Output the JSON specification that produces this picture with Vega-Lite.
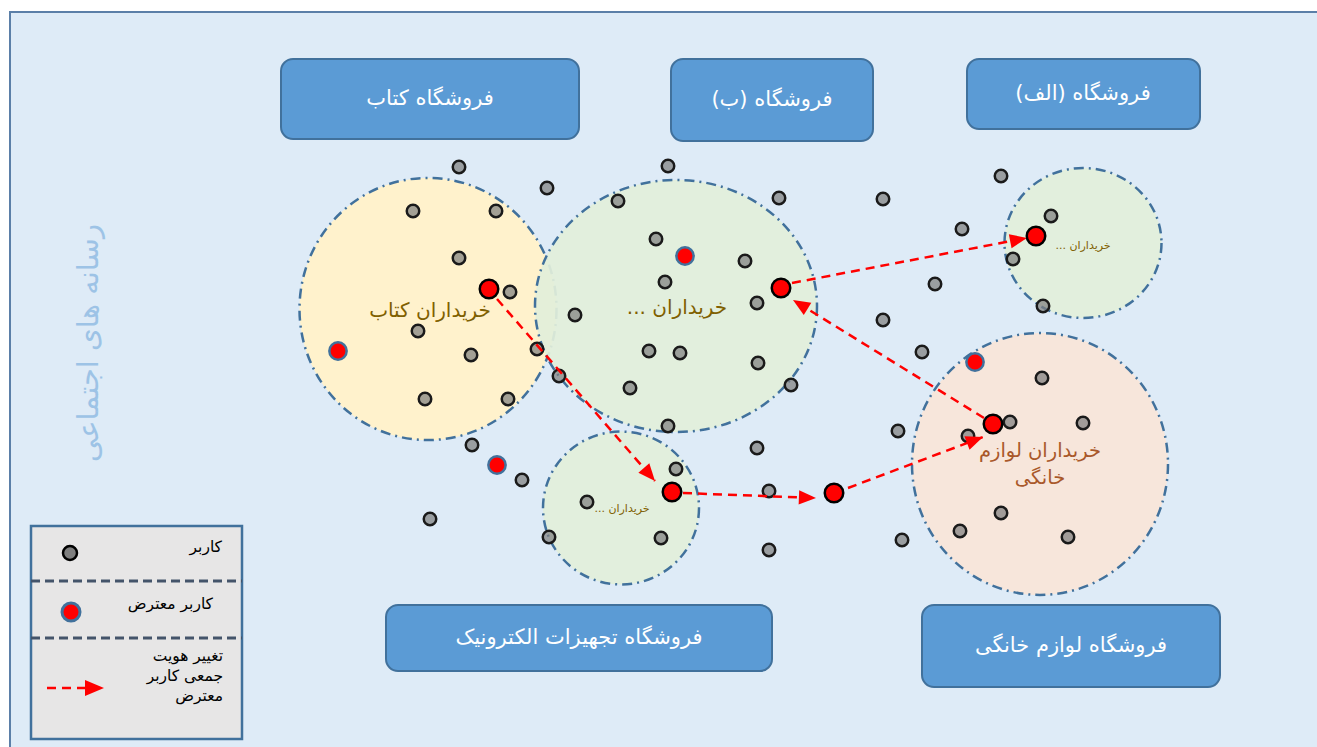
{
  "$schema": "https://vega.github.io/schema/vega-lite/v6.json",
  "width": 1317,
  "height": 747,
  "autosize": {"type": "fit", "contains": "padding"},
  "padding": 0,
  "background": "#ffffff",
  "config": {"view": {"stroke": null}},
  "datasets": {
    "frame": [{"x": 10, "y": 12, "x2": 1330, "y2": 760}],
    "boxes": [
      {"x": 281, "x2": 579, "y": 59, "y2": 139},
      {"x": 671, "x2": 873, "y": 59, "y2": 141},
      {"x": 967, "x2": 1200, "y": 59, "y2": 129},
      {"x": 386, "x2": 772, "y": 605, "y2": 671},
      {"x": 922, "x2": 1220, "y": 605, "y2": 687}
    ],
    "boxText": [
      {"x": 430, "y": 99, "t": "فروشگاه کتاب"},
      {"x": 772, "y": 100, "t": "فروشگاه (ب)\u200f"},
      {"x": 1083, "y": 94, "t": "فروشگاه (الف)\u200f"},
      {"x": 579, "y": 638, "t": "فروشگاه تجهیزات الکترونیک"},
      {"x": 1071, "y": 646, "t": "فروشگاه لوازم خانگی"}
    ],
    "circles": [
      {"name": "book", "x": 428, "y": 309, "rx": 128.5, "fill": "book"},
      {"name": "b", "x": 676, "y": 306, "rx": 141, "fill": "green"},
      {"name": "elec", "x": 621, "y": 508, "rx": 78, "fill": "green"},
      {"name": "alef", "x": 1083, "y": 243, "rx": 78.5, "fill": "green"},
      {"name": "house", "x": 1040, "y": 464, "rx": 128, "fill": "house"}
    ],
    "users": [
      {"x": 459, "y": 167}, {"x": 547, "y": 188}, {"x": 413, "y": 211}, {"x": 496, "y": 211},
      {"x": 459, "y": 258}, {"x": 510, "y": 292}, {"x": 418, "y": 331}, {"x": 471, "y": 355},
      {"x": 537, "y": 349}, {"x": 559, "y": 376}, {"x": 425, "y": 399}, {"x": 508, "y": 399},
      {"x": 472, "y": 445}, {"x": 575, "y": 315},
      {"x": 668, "y": 166}, {"x": 618, "y": 201}, {"x": 779, "y": 198}, {"x": 656, "y": 239},
      {"x": 745, "y": 261}, {"x": 665, "y": 282}, {"x": 757, "y": 303}, {"x": 649, "y": 351},
      {"x": 680, "y": 353}, {"x": 758, "y": 363}, {"x": 630, "y": 388}, {"x": 791, "y": 385},
      {"x": 668, "y": 426},
      {"x": 1001, "y": 176}, {"x": 883, "y": 199}, {"x": 962, "y": 229}, {"x": 1013, "y": 259},
      {"x": 935, "y": 284}, {"x": 883, "y": 320}, {"x": 922, "y": 352}, {"x": 1010, "y": 422},
      {"x": 968, "y": 436}, {"x": 898, "y": 431}, {"x": 1001, "y": 513}, {"x": 960, "y": 531},
      {"x": 902, "y": 540}, {"x": 1051, "y": 216}, {"x": 1043, "y": 306}, {"x": 1042, "y": 378},
      {"x": 1083, "y": 423}, {"x": 1068, "y": 537},
      {"x": 522, "y": 480}, {"x": 430, "y": 519}, {"x": 587, "y": 502}, {"x": 676, "y": 469},
      {"x": 549, "y": 537}, {"x": 661, "y": 538}, {"x": 757, "y": 448}, {"x": 769, "y": 491},
      {"x": 769, "y": 550}
    ],
    "objectors": [
      {"x": 338, "y": 351}, {"x": 685, "y": 256}, {"x": 975, "y": 362}, {"x": 497, "y": 465}
    ],
    "movers": [
      {"x": 489, "y": 289}, {"x": 781, "y": 288}, {"x": 993, "y": 424},
      {"x": 1036, "y": 236}, {"x": 672, "y": 492}, {"x": 834, "y": 493}
    ],
    "arrows": [
      {"x": 497, "y": 299, "x2": 655, "y2": 481},
      {"x": 683, "y": 493, "x2": 816, "y2": 498},
      {"x": 848, "y": 488, "x2": 983, "y2": 437},
      {"x": 984, "y": 418, "x2": 793, "y2": 300},
      {"x": 792, "y": 283, "x2": 1027, "y2": 238}
    ],
    "heads": [
      {"x": 655, "y": 481, "angle": 139.3},
      {"x": 816, "y": 498, "angle": 92.2},
      {"x": 983, "y": 437, "angle": 69.4},
      {"x": 793, "y": 300, "angle": 301.6},
      {"x": 1027, "y": 238, "angle": 79.2}
    ],
    "legendArrow": [{"x": 47, "y": 688, "x2": 96, "y2": 688}],
    "legendHead": [{"x": 104, "y": 688, "angle": 90}],
    "bigLabels": [
      {"x": 430, "y": 311, "t": "خریداران کتاب"},
      {"x": 677, "y": 308, "t": "خریداران ...\u200f"}
    ],
    "smallLabels": [
      {"x": 622, "y": 509, "t": "خریداران ...\u200f"},
      {"x": 1083, "y": 246, "t": "خریداران ...\u200f"}
    ],
    "houseLabels": [
      {"x": 1040, "y": 451, "t": "خریداران لوازم"},
      {"x": 1040, "y": 478, "t": "خانگی"}
    ],
    "vertical": [{"x": 89, "y": 343, "t": "رسانه های اجتماعی"}],
    "legendBox": [{"x": 31, "x2": 242, "y": 526, "y2": 739}],
    "legendRules": [{"x": 31, "x2": 242, "y": 581}, {"x": 31, "x2": 242, "y": 638}],
    "legendUser": [{"x": 70, "y": 553}],
    "legendObjector": [{"x": 71, "y": 612}],
    "legendText": [
      {"x": 222, "y": 547, "t": "کاربر"},
      {"x": 213, "y": 604, "t": "کاربر معترض"},
      {"x": 223, "y": 656, "t": "تغییر هویت"},
      {"x": 223, "y": 676, "t": "جمعی کاربر"},
      {"x": 223, "y": 696, "t": "معترض"}
    ]
  },
  "encoding": {
    "x": {"field": "x", "type": "quantitative", "scale": {"domain": [0, 1317], "nice": false, "zero": false}, "axis": null},
    "y": {"field": "y", "type": "quantitative", "scale": {"domain": [0, 747], "nice": false, "zero": false, "reverse": true}, "axis": null}
  },
  "layer": [
    {
      "data": {"name": "frame"},
      "mark": {"type": "rect", "fill": "#deebf7", "stroke": "#5b7fa8", "strokeWidth": 2, "clip": true},
      "encoding": {"x2": {"field": "x2"}, "y2": {"field": "y2"}}
    },
    {
      "data": {"name": "boxes"},
      "mark": {"type": "rect", "fill": "#5b9bd5", "stroke": "#41719c", "strokeWidth": 2, "cornerRadius": 12},
      "encoding": {"x2": {"field": "x2"}, "y2": {"field": "y2"}}
    },
    {
      "data": {"name": "boxText"},
      "mark": {"type": "text", "font": "DejaVu Sans", "fontSize": 21, "color": "#ffffff", "align": "center", "baseline": "middle"},
      "encoding": {"text": {"field": "t"}}
    },
    {
      "data": {"name": "circles"},
      "mark": {"type": "point", "filled": true, "opacity": 1, "stroke": "#41719c", "strokeWidth": 2.5, "strokeDash": [10, 5, 2, 5]},
      "encoding": {
        "shape": {"field": "name", "type": "nominal", "legend": null, "scale": {
          "domain": ["book", "b", "elec", "alef", "house"],
          "range": [
            "M1,0C1,0.5633 0.5523,1.02 0,1.02C-0.5523,1.02 -1,0.5633 -1,0C-1,-0.5633 -0.5523,-1.02 0,-1.02C0.5523,-1.02 1,-0.5633 1,0Z",
            "M1,0C1,0.4938 0.5523,0.894 0,0.894C-0.5523,0.894 -1,0.4938 -1,0C-1,-0.4938 -0.5523,-0.894 0,-0.894C0.5523,-0.894 1,-0.4938 1,0Z",
            "M1,0C1,0.5413 0.5523,0.98 0,0.98C-0.5523,0.98 -1,0.5413 -1,0C-1,-0.5413 -0.5523,-0.98 0,-0.98C0.5523,-0.98 1,-0.5413 1,0Z",
            "M1,0C1,0.5274 0.5523,0.955 0,0.955C-0.5523,0.955 -1,0.5274 -1,0C-1,-0.5274 -0.5523,-0.955 0,-0.955C0.5523,-0.955 1,-0.5274 1,0Z",
            "M1,0C1,0.565 0.5523,1.023 0,1.023C-0.5523,1.023 -1,0.565 -1,0C-1,-0.565 -0.5523,-1.023 0,-1.023C0.5523,-1.023 1,-0.565 1,0Z"
          ]}},
        "size": {"field": "rx", "type": "quantitative", "legend": null, "scale": {"type": "pow", "exponent": 2, "domain": [0, 141], "range": [0, 79524], "nice": false, "zero": true}},
        "fill": {"field": "fill", "type": "nominal", "legend": null, "scale": {"domain": ["book", "green", "house"], "range": ["#fff2cc", "#e2efda", "#fbe5d6"]}},
        "fillOpacity": {"field": "fill", "type": "nominal", "legend": null, "scale": {"domain": ["book", "green", "house"], "range": [1, 0.85, 1]}}
      }
    },
    {
      "data": {"name": "users"},
      "mark": {"type": "point", "shape": "circle", "filled": true, "opacity": 1, "fill": "#7f7f7f", "fillOpacity": 0.72, "stroke": "#1a1a1a", "strokeWidth": 2.5, "size": 156}
    },
    {
      "data": {"name": "objectors"},
      "mark": {"type": "point", "shape": "circle", "filled": true, "opacity": 1, "fill": "#ff0000", "stroke": "#41719c", "strokeWidth": 2.5, "size": 300}
    },
    {
      "data": {"name": "arrows"},
      "mark": {"type": "rule", "color": "#ff0000", "strokeWidth": 2.5, "strokeDash": [9, 6]},
      "encoding": {"x2": {"field": "x2"}, "y2": {"field": "y2"}}
    },
    {
      "data": {"name": "heads"},
      "mark": {"type": "point", "shape": "M0,0L0.8,1.9L-0.8,1.9Z", "filled": true, "opacity": 1, "fill": "#ff0000", "strokeWidth": 0, "size": 324},
      "encoding": {"angle": {"field": "angle", "type": "quantitative", "scale": null}}
    },
    {
      "data": {"name": "movers"},
      "mark": {"type": "point", "shape": "circle", "filled": true, "opacity": 1, "fill": "#ff0000", "stroke": "#000000", "strokeWidth": 2.5, "size": 342}
    },
    {
      "data": {"name": "bigLabels"},
      "mark": {"type": "text", "font": "DejaVu Sans", "fontSize": 20, "color": "#7f6000", "align": "center", "baseline": "middle"},
      "encoding": {"text": {"field": "t"}}
    },
    {
      "data": {"name": "smallLabels"},
      "mark": {"type": "text", "font": "DejaVu Sans", "fontSize": 11, "color": "#7f6000", "align": "center", "baseline": "middle"},
      "encoding": {"text": {"field": "t"}}
    },
    {
      "data": {"name": "houseLabels"},
      "mark": {"type": "text", "font": "DejaVu Sans", "fontSize": 19.5, "color": "#a9582a", "align": "center", "baseline": "middle"},
      "encoding": {"text": {"field": "t"}}
    },
    {
      "data": {"name": "vertical"},
      "mark": {"type": "text", "font": "DejaVu Sans", "fontSize": 29, "color": "#9dc3e6", "align": "center", "baseline": "middle", "angle": 270},
      "encoding": {"text": {"field": "t"}}
    },
    {
      "data": {"name": "legendBox"},
      "mark": {"type": "rect", "fill": "#e7e6e6", "stroke": "#41719c", "strokeWidth": 2.5},
      "encoding": {"x2": {"field": "x2"}, "y2": {"field": "y2"}}
    },
    {
      "data": {"name": "legendRules"},
      "mark": {"type": "rule", "color": "#44546a", "strokeWidth": 3, "strokeDash": [9, 5]},
      "encoding": {"x2": {"field": "x2"}}
    },
    {
      "data": {"name": "legendUser"},
      "mark": {"type": "point", "shape": "circle", "filled": true, "opacity": 1, "fill": "#7f7f7f", "stroke": "#000000", "strokeWidth": 2.5, "size": 196}
    },
    {
      "data": {"name": "legendObjector"},
      "mark": {"type": "point", "shape": "circle", "filled": true, "opacity": 1, "fill": "#ff0000", "stroke": "#41719c", "strokeWidth": 3, "size": 324}
    },
    {
      "data": {"name": "legendArrow"},
      "mark": {"type": "rule", "color": "#ff0000", "strokeWidth": 2.5, "strokeDash": [9, 6]},
      "encoding": {"x2": {"field": "x2"}, "y2": {"field": "y2"}}
    },
    {
      "data": {"name": "legendHead"},
      "mark": {"type": "point", "shape": "M0,0L0.8,1.9L-0.8,1.9Z", "filled": true, "opacity": 1, "fill": "#ff0000", "strokeWidth": 0, "size": 400},
      "encoding": {"angle": {"field": "angle", "type": "quantitative", "scale": null}}
    },
    {
      "data": {"name": "legendText"},
      "mark": {"type": "text", "font": "DejaVu Sans", "fontSize": 15.5, "color": "#000000", "align": "right", "baseline": "middle"},
      "encoding": {"text": {"field": "t"}}
    }
  ]
}
